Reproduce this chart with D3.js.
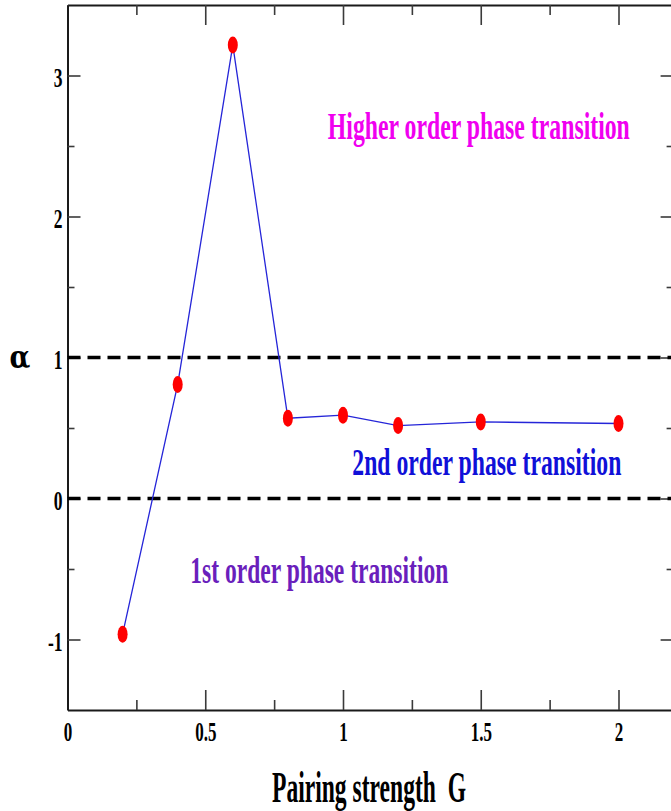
<!DOCTYPE html>
<html>
<head>
<meta charset="utf-8">
<script src="https://cdn.jsdelivr.net/npm/d3@7/dist/d3.min.js"></script>
<style>
  html, body { margin: 0; padding: 0; background: #fff; }
  svg { display: block; }
  .serif { font-family: "Liberation Serif", "Times New Roman", "DejaVu Serif", serif; font-weight: bold; }
</style>
</head>
<body>
<svg id="chart" width="671" height="811"></svg>
<script>
// Pairing strength G and the exponent alpha
const pairingG = [0.2, 0.4, 0.6, 0.8, 1.0, 1.2, 1.5, 2.0];
const alphaValues = [-0.962, 0.809, 3.216, 0.569, 0.591, 0.517, 0.543, 0.532];

// Axis ticks
const xMajorTicks = [0, 0.5, 1, 1.5, 2];
const xTickLabels = ["0", "0.5", "1", "1.5", "2"];
const xMinorTicks = [0.25, 0.75, 1.25, 1.75];
const yMajorTicks = [-1, 0, 1, 2, 3];
const yTickLabels = ["-1", "0", "1", "2", "3"];
const yMinorTicks = [-0.5, 0.5, 1.5, 2.5];

// Phase boundaries (dashed) and region labels
const boundaryLevels = [0, 1];
const regionLabels = ["Higher order phase transition", "2nd order phase transition", "1st order phase transition"];
const regionAnchorsG = [1.493, 1.522, 0.914];
const regionAnchorsAlpha = [2.55, 0.165, -0.6];

const STRETCH = 1.55; // tall, condensed lettering
const svg = d3.select("#chart");
const plotLeft = 67.5, plotRight = 673.6, plotTop = 5, plotBottom = 710;

const x = d3.scaleLinear().domain([0, 2.2]).range([plotLeft, plotRight]);
const y = d3.scaleLinear().domain([-1.5, 3.5]).range([plotBottom, plotTop]);

function styleAxis(g) {
  g.select(".domain").attr("stroke", "#1a1a1a").attr("stroke-width", 2);
  g.selectAll(".tick line").attr("stroke", "#3a3a3a").attr("stroke-width", 1.6);
}
function styleMinor(g) {
  g.select(".domain").remove();
  g.selectAll(".tick line").attr("stroke", "#3a3a3a").attr("stroke-width", 1.6);
}

// Bottom axis with inward ticks and labels
const gx = svg.append("g").attr("transform", `translate(0,${plotBottom})`)
  .call(d3.axisBottom(x).tickValues(xMajorTicks).tickSizeInner(-20).tickSizeOuter(0)
    .tickFormat((d, i) => xTickLabels[i]));
styleAxis(gx);
gx.selectAll(".tick text")
  .attr("class", "serif").attr("fill", "#000").attr("font-size", 17)
  .attr("y", 0).attr("dy", 0)
  .attr("transform", `translate(0,31) scale(1,${STRETCH})`);
svg.append("g").attr("transform", `translate(0,${plotBottom})`)
  .call(d3.axisBottom(x).tickValues(xMinorTicks).tickSize(-10).tickFormat(""))
  .call(styleMinor);

// Top axis (mirror ticks)
const gxt = svg.append("g").attr("transform", `translate(0,${plotTop})`)
  .call(d3.axisTop(x).tickValues(xMajorTicks).tickSizeInner(-20).tickSizeOuter(0).tickFormat(""));
styleAxis(gxt);
svg.append("g").attr("transform", `translate(0,${plotTop})`)
  .call(d3.axisTop(x).tickValues(xMinorTicks).tickSize(-10).tickFormat(""))
  .call(styleMinor);

// Left axis
const gy = svg.append("g").attr("transform", `translate(${plotLeft},0)`)
  .call(d3.axisLeft(y).tickValues(yMajorTicks).tickSizeInner(-13).tickSizeOuter(0)
    .tickFormat((d, i) => yTickLabels[i]));
styleAxis(gy);
gy.selectAll(".tick text")
  .attr("class", "serif").attr("fill", "#000").attr("font-size", 17.5)
  .attr("x", 0).attr("dy", 0).attr("text-anchor", "end")
  .attr("transform", `translate(-5,10.5) scale(1,${STRETCH})`);
svg.append("g").attr("transform", `translate(${plotLeft},0)`)
  .call(d3.axisLeft(y).tickValues(yMinorTicks).tickSize(-7).tickFormat(""))
  .call(styleMinor);

// Right axis (mirror ticks)
const gyr = svg.append("g").attr("transform", `translate(${plotRight},0)`)
  .call(d3.axisRight(y).tickValues(yMajorTicks).tickSizeInner(-13).tickSizeOuter(0).tickFormat(""));
styleAxis(gyr);
svg.append("g").attr("transform", `translate(${plotRight},0)`)
  .call(d3.axisRight(y).tickValues(yMinorTicks).tickSize(-7).tickFormat(""))
  .call(styleMinor);

// Dashed phase boundaries
svg.append("g").selectAll("line").data(boundaryLevels).join("line")
  .attr("x1", plotLeft).attr("x2", plotRight)
  .attr("y1", d => y(d)).attr("y2", d => y(d))
  .attr("stroke", "#000").attr("stroke-width", 3.5)
  .attr("stroke-dasharray", "13,7");

// Data line and markers
const line = d3.line().x((d, i) => x(pairingG[i])).y(d => y(d));
svg.append("path").datum(alphaValues)
  .attr("d", line).attr("fill", "none")
  .attr("stroke", "#2525d8").attr("stroke-width", 1.3);
svg.append("g").selectAll("ellipse").data(alphaValues).join("ellipse")
  .attr("cx", (d, i) => x(pairingG[i])).attr("cy", d => y(d))
  .attr("rx", 5).attr("ry", 8.5).attr("fill", "#ff0000");

// Region labels
const regionColors = ["#f000f0", "#1010d8", "#6a1fbc"];
const regionWidths = [302, 269, 258];
svg.append("g").selectAll("text").data(regionLabels).join("text")
  .attr("class", "serif")
  .attr("transform", (d, i) => `translate(${x(regionAnchorsG[i])},${y(regionAnchorsAlpha[i])}) scale(1,${STRETCH})`)
  .attr("text-anchor", "middle")
  .attr("font-size", 24.5)
  .attr("fill", (d, i) => regionColors[i])
  .attr("textLength", (d, i) => regionWidths[i])
  .attr("lengthAdjust", "spacingAndGlyphs")
  .text(d => d);

// Axis titles
svg.append("text").attr("class", "serif")
  .attr("transform", `translate(369,802) scale(1,${STRETCH})`)
  .attr("text-anchor", "middle").attr("font-size", 28)
  .attr("textLength", 194).attr("lengthAdjust", "spacingAndGlyphs")
  .style("white-space", "pre")
  .text("Pairing strength  G");
svg.append("text")
  .attr("transform", `translate(20,368) scale(1,1.2)`)
  .attr("text-anchor", "middle").attr("font-size", 27)
  .attr("font-family", "'DejaVu Serif', 'Liberation Serif', serif")
  .attr("font-weight", "bold")
  .attr("fill", "#000")
  .text("α");
</script>
</body>
</html>
